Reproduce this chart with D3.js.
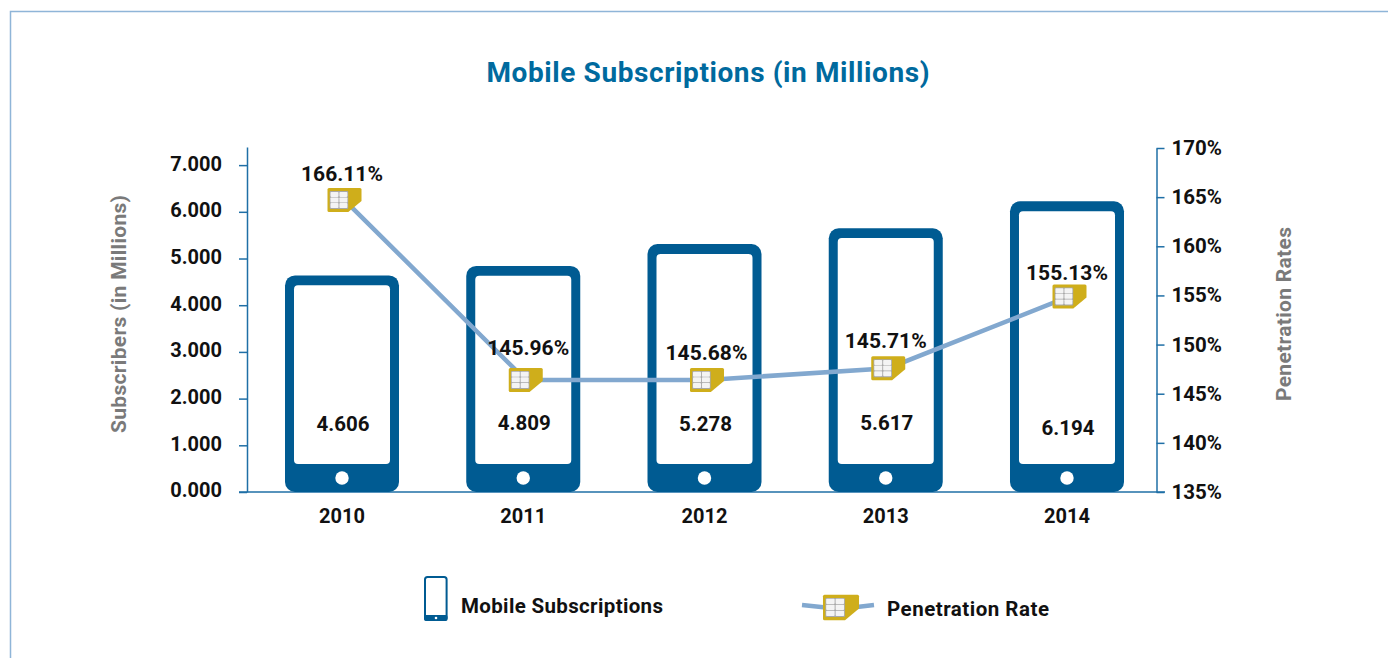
<!DOCTYPE html>
<html><head><meta charset="utf-8">
<script src="https://cdn.jsdelivr.net/npm/d3@7/dist/d3.min.js"></script>
<style>html,body{margin:0;padding:0;background:#fff}svg{display:block}
text{font-family:Roboto,sans-serif;font-weight:700}</style></head>
<body><svg id="c" width="1388" height="658"></svg>
<script>
const years = ["2010","2011","2012","2013","2014"];
const subscribers = [4606,4809,5278,5617,6194];
const subscriberLabels = ["4.606","4.809","5.278","5.617","6.194"];
const rateLabels = ["166.11%","145.96%","145.68%","145.71%","155.13%"];
const ratePlotted = [164.7,146.4,146.4,147.6,154.9];
const leftTicks = [0,1000,2000,3000,4000,5000,6000,7000];
const rightTicks = [135,140,145,150,155,160,165,170];

const BLUE="#005b92", AXIS="#1f6fa6", LINE="#82a8cf", GOLD="#cfae1b", GREY="#7a7a7a";
const svg=d3.select("#c");
const top0=147, base=492;
const x=d3.scaleBand().domain(years).range([285,1124]).paddingInner(0.371);
const y=d3.scaleLinear().domain([0,7388]).range([base,top0]);
const yR=d3.scaleLinear().domain([135,170]).range([base,148]);
const cx=d=>x(d)+x.bandwidth()/2;
const sx=d=>cx(d)+2.5;

// frame
svg.append("path").attr("d",d3.line()([[10.5,658],[10.5,11.5],[1388,11.5]]))
  .attr("fill","none").attr("stroke","#8fb5d8").attr("stroke-width",1.5);

// title
svg.append("text").attr("x",708).attr("y",82).attr("text-anchor","middle")
  .attr("fill","#006a9e").attr("font-size",28).attr("textLength",443).text("Mobile Subscriptions (in Millions)");

// axes
function styleAxis(g,size){
  g.selectAll("path,line").attr("stroke",AXIS).attr("stroke-width",1.5);
  g.selectAll("text").attr("fill","#111").attr("font-size",size).style("font-family","Roboto,sans-serif").style("font-weight",700);
}
svg.append("g").attr("transform","translate(247,0)")
  .call(d3.axisLeft(y).tickValues(leftTicks).tickSize(8).tickSizeOuter(0).tickPadding(17).tickFormat(d=>(d/1000).toFixed(3)))
  .call(styleAxis,20)
  .call(g=>g.selectAll("text").attr("transform","translate(0,-1.5)"));
svg.append("g").attr("transform","translate(1156.5,0)")
  .call(d3.axisRight(yR).tickValues(rightTicks).tickSize(8).tickSizeOuter(0).tickPadding(7).tickFormat(d=>d+"%"))
  .call(styleAxis,20.5);
svg.append("line").attr("x1",239).attr("x2",1165).attr("y1",base).attr("y2",base).attr("stroke",AXIS).attr("stroke-width",1.5);

svg.append("text").attr("transform","translate(126,314) rotate(-90)").attr("text-anchor","middle")
  .attr("fill",GREY).attr("font-size",21).attr("textLength",238).text("Subscribers (in Millions)");
svg.append("text").attr("transform","translate(1291,314) rotate(-90)").attr("text-anchor","middle")
  .attr("fill",GREY).attr("font-size",21).attr("textLength",174).text("Penetration Rates");

// phone-shaped bars
function phone(g,px,top,w,bottom,inset,rx,chin){
  const h=bottom-top;
  g.append("rect").attr("x",px).attr("y",top).attr("width",w).attr("height",h).attr("rx",rx).attr("fill",BLUE);
  g.append("rect").attr("x",px+inset).attr("y",top+inset*1.1).attr("width",w-2*inset)
    .attr("height",h-inset*1.1-chin).attr("rx",rx*0.4).attr("fill","#fff");
  g.append("circle").attr("cx",px+w/2).attr("cy",bottom-chin/2).attr("r",chin*0.24).attr("fill","#fff");
}
svg.append("g").selectAll("g").data(years).join("g").each(function(d,i){
  phone(d3.select(this),x(d),y(subscribers[i])-1.5,x.bandwidth(),base,9,10,28);
});

// category labels
svg.append("g").selectAll("text").data(years).join("text")
  .attr("x",cx).attr("y",523).attr("text-anchor","middle").attr("fill","#111").attr("font-size",20).text(d=>d);

// value labels
const valueLabelDy=[0,-1,0,-1,4];
svg.append("g").selectAll("text").data(years).join("text")
  .attr("x",d=>cx(d)+1).attr("y",(d,i)=>431+valueLabelDy[i]).attr("text-anchor","middle")
  .attr("fill","#111").attr("font-size",20.5).text((d,i)=>subscriberLabels[i]);

// line
const pts=years.map((d,i)=>[sx(d),yR(ratePlotted[i])]);
svg.append("path").attr("d",d3.line()(pts)).attr("fill","none").attr("stroke",LINE).attr("stroke-width",4.5);

// SIM marker
function sim(g,mx,my,s){
  const w=34*s,h=24*s,c=11*s;
  const l=mx-w/2,t=my-h/2,r=mx+w/2,b=my+h/2;
  g.append("path").attr("d",`M${l+1.5} ${t}H${r-1.5}Q${r} ${t} ${r} ${t+1.5}V${b-c}L${r-c*1.2} ${b}H${l+1.5}Q${l} ${b} ${l} ${b-1.5}V${t+1.5}Q${l} ${t} ${l+1.5} ${t}Z`).attr("fill",GOLD);
  const cl=l+2.2*s,ct=t+3*s,cw=18.5*s,ch=18*s;
  g.append("rect").attr("x",cl).attr("y",ct).attr("width",cw).attr("height",ch).attr("rx",1).attr("fill","#a8a8a8");
  [0,1].forEach(col=>[0,1,2].forEach(row=>{
    g.append("rect").attr("x",cl+0.8*s+col*8.9*s).attr("y",ct+0.8*s+row*5.6*s)
      .attr("width",8*s).attr("height",5*s).attr("rx",0.8).attr("fill","#f4f4f4");
  }));
}
years.forEach((d,i)=>sim(svg.append("g"),sx(d),yR(ratePlotted[i]),1));

// rate labels
const rateLabelDx=[0,5,2,0,0], rateLabelDy=[0,-6,-1,-1,3];
svg.append("g").selectAll("text").data(years).join("text")
  .attr("x",(d,i)=>cx(d)+rateLabelDx[i]).attr("y",(d,i)=>yR(ratePlotted[i])-19+rateLabelDy[i])
  .attr("text-anchor","middle").attr("fill","#111").attr("font-size",21).text((d,i)=>rateLabels[i]);

// legend
const lg=svg.append("g");
lg.append("rect").attr("x",425).attr("y",577).attr("width",21.6).attr("height",43).attr("rx",2.5).attr("fill","#fff").attr("stroke",BLUE).attr("stroke-width",2);
lg.append("rect").attr("x",424).attr("y",615).attr("width",23.6).attr("height",6).attr("rx",2).attr("fill",BLUE);
lg.append("circle").attr("cx",436).attr("cy",618).attr("r",1.3).attr("fill","#fff");
lg.append("text").attr("x",461).attr("y",613).attr("fill","#111").attr("font-size",20.5).attr("textLength",202).text("Mobile Subscriptions");
lg.append("path").attr("d",d3.line()([[802,605],[840,609],[874,605]])).attr("fill","none").attr("stroke",LINE).attr("stroke-width",4.5);
sim(lg.append("g"),841,607.5,1.06);
lg.append("text").attr("x",887).attr("y",616).attr("fill","#111").attr("font-size",20.5).attr("textLength",162).text("Penetration Rate");
</script></body></html>
